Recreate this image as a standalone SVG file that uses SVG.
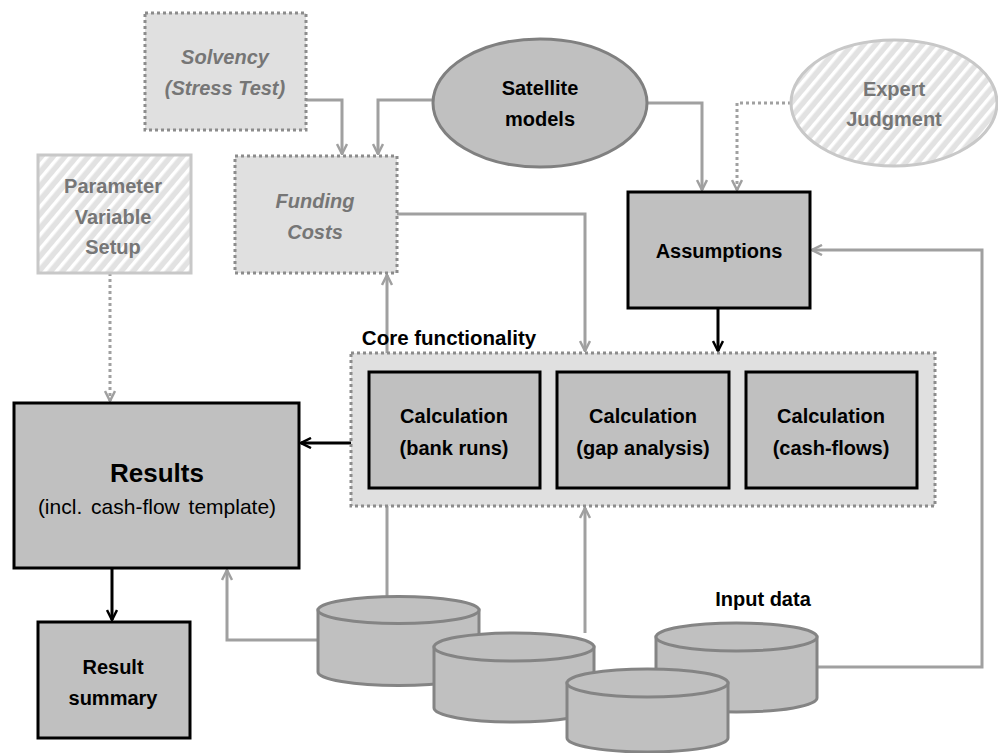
<svg xmlns="http://www.w3.org/2000/svg" width="998" height="753" viewBox="0 0 998 753">
<style>
text{font-family:"Liberation Sans",Arial,sans-serif;font-weight:bold;text-anchor:middle;}
.dark{fill:#c0c0c0;stroke:#000;stroke-width:3;}
.dot{fill:#e0e0e0;stroke:#8c8c8c;stroke-width:3;stroke-dasharray:3 3;}
.hatch{fill:url(#hatch);stroke:#c8c8c8;stroke-width:3;}
.cyl{fill:#c0c0c0;stroke:#848484;stroke-width:3;}
.g{fill:none;stroke:#a0a0a0;stroke-width:3;}
.gd{fill:none;stroke:#a0a0a0;stroke-width:3;stroke-dasharray:3 3;}
.k{fill:none;stroke:#000;stroke-width:3;}
.t{font-size:20px;fill:#000;}
.tg{font-size:20px;fill:#767676;}
.ti{font-size:20px;fill:#767676;font-style:italic;}
</style>
<defs>
<pattern id="hatch" width="9" height="9" patternUnits="userSpaceOnUse" patternTransform="rotate(40)">
<rect width="9" height="9" fill="#e2e2e2"/>
<rect width="3.5" height="9" fill="#ffffff"/>
</pattern>
<marker id="ag" viewBox="0 0 12 12" refX="11" refY="6" markerWidth="12" markerHeight="12" markerUnits="userSpaceOnUse" orient="auto">
<path d="M1,1 L11,6 L1,11" fill="none" stroke="#a0a0a0" stroke-width="2.5"/>
</marker>
<marker id="ak" viewBox="0 0 12 12" refX="11" refY="6" markerWidth="12" markerHeight="12" markerUnits="userSpaceOnUse" orient="auto">
<path d="M1,1 L11,6 L1,11" fill="none" stroke="#000" stroke-width="2.5"/>
</marker>
</defs>

<g id="connectors">
<path class="g" d="M306,100 H342 V154" marker-end="url(#ag)"/>
<path class="g" d="M432,100 H378 V154" marker-end="url(#ag)"/>
<path class="g" d="M647,103 H702 V190" marker-end="url(#ag)"/>
<path class="gd" d="M791,103 H737 V190" marker-end="url(#ag)"/>
<path class="g" d="M397,214 H585 V351" marker-end="url(#ag)"/>
<path class="gd" d="M110,273 V401" marker-end="url(#ag)"/>
<path class="g" d="M387,596 V275" marker-end="url(#ag)"/>
<path class="g" d="M318,640 H227 V570" marker-end="url(#ag)"/>
<path class="g" d="M585,633 V508" marker-end="url(#ag)"/>
<path class="g" d="M817,667 H982 V250 H812" marker-end="url(#ag)"/>
<path class="k" d="M718,308 V351" marker-end="url(#ak)"/>
<path class="k" d="M351,443 H301" marker-end="url(#ak)"/>
<path class="k" d="M112,568 V620" marker-end="url(#ak)"/>
</g>

<g id="solvency">
<rect class="dot" x="145" y="13" width="161" height="117"/>
<text class="ti" x="225" y="64">Solvency</text>
<text class="ti" x="225" y="95">(Stress Test)</text>
</g>

<g id="funding">
<rect class="dot" x="235" y="156" width="162" height="117"/>
<text class="ti" x="315" y="208">Funding</text>
<text class="ti" x="315" y="239">Costs</text>
</g>

<g id="satellite">
<ellipse cx="540" cy="103" rx="107" ry="64" fill="#c0c0c0" stroke="#808080" stroke-width="3"/>
<text class="t" x="540" y="95">Satellite</text>
<text class="t" x="540" y="126">models</text>
</g>

<g id="expert">
<ellipse class="hatch" cx="894" cy="103" rx="103" ry="63"/>
<text class="tg" x="894" y="96">Expert</text>
<text class="tg" x="894" y="126">Judgment</text>
</g>

<g id="parameter">
<rect class="hatch" x="38" y="155" width="153" height="118"/>
<text class="tg" x="113" y="193">Parameter</text>
<text class="tg" x="113" y="224">Variable</text>
<text class="tg" x="113" y="254">Setup</text>
</g>

<g id="assumptions">
<rect class="dark" x="628" y="192" width="182" height="116"/>
<text class="t" x="719" y="258">Assumptions</text>
</g>

<g id="core">
<rect class="dot" x="351" y="353" width="584" height="153"/>
<text class="t" x="449" y="345" style="font-size:20.5px">Core functionality</text>
</g>

<g id="calc-bank">
<rect class="dark" x="369" y="372" width="171" height="116"/>
<text class="t" x="454" y="423">Calculation</text>
<text class="t" x="454" y="455">(bank runs)</text>
</g>

<g id="calc-gap">
<rect class="dark" x="557" y="372" width="172" height="116"/>
<text class="t" x="643" y="423">Calculation</text>
<text class="t" x="643" y="455">(gap analysis)</text>
</g>

<g id="calc-cash">
<rect class="dark" x="746" y="372" width="171" height="116"/>
<text class="t" x="831" y="423">Calculation</text>
<text class="t" x="831" y="455">(cash-flows)</text>
</g>

<g id="results">
<rect class="dark" x="14" y="403" width="285" height="165"/>
<text x="157" y="482" style="font-size:26px;fill:#000">Results</text>
<text x="157" y="514" style="font-size:21px;fill:#000;font-weight:normal;word-spacing:3px">(incl. cash-flow template)</text>
</g>

<g id="summary">
<rect class="dark" x="38" y="622" width="152" height="116"/>
<text class="t" x="113" y="674">Result</text>
<text class="t" x="113" y="705">summary</text>
</g>

<g id="input-data">
<text class="t" x="763" y="606">Input data</text>
<path class="cyl" d="M318,610 V672 A80.5,13.5 0 0 0 479,672 V610 Z"/>
<ellipse class="cyl" cx="398.5" cy="610" rx="80.5" ry="13.5"/>
<path class="cyl" d="M434,647 V708 A80,14 0 0 0 594,708 V647 Z"/>
<ellipse class="cyl" cx="514" cy="647" rx="80" ry="14"/>
<path class="cyl" d="M656,637 V698 A80.5,14 0 0 0 817,698 V637 Z"/>
<ellipse class="cyl" cx="736.5" cy="637" rx="80.5" ry="14"/>
<path class="cyl" d="M567,683 V738 A80.5,14 0 0 0 728,738 V683 Z"/>
<ellipse class="cyl" cx="647.5" cy="683" rx="80.5" ry="14"/>
</g>
</svg>
